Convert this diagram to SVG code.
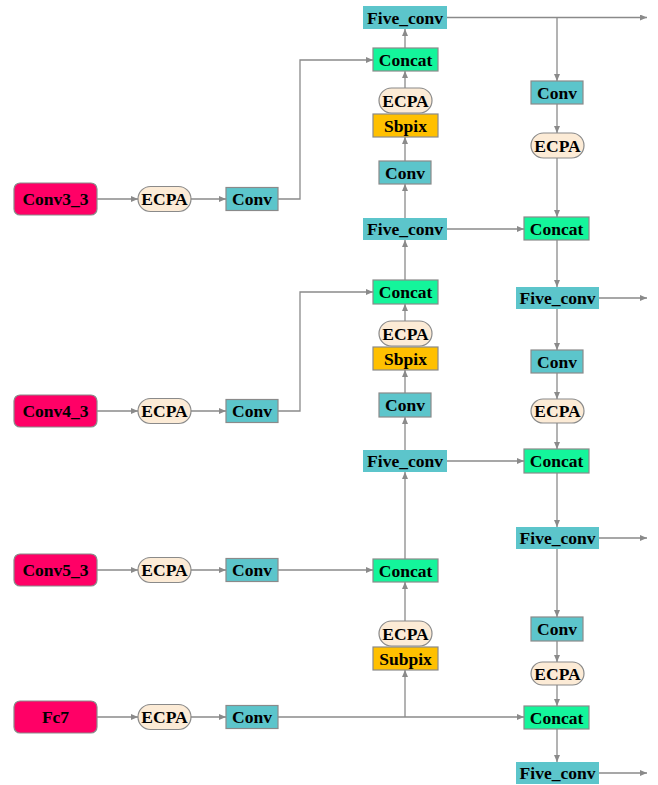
<svg xmlns="http://www.w3.org/2000/svg" width="658" height="785" viewBox="0 0 658 785">
  <defs>
    <marker id="arr" markerWidth="8" markerHeight="6" refX="7" refY="3" orient="auto" markerUnits="userSpaceOnUse">
      <path d="M0,0 L7,3 L0,6 Z" fill="#8a8a8a"/>
    </marker>
    <style>
      .src { fill: #FF0066; stroke: #8a8a8a; stroke-width: 1.2; }
      .ecpa { fill: #FCEBD6; stroke: #8a8a8a; stroke-width: 1.2; }
      .conv { fill: #5CC5CB; stroke: #8a8a8a; stroke-width: 1.2; }
      .cat { fill: #14F59B; stroke: #8a8a8a; stroke-width: 1.2; }
      .pix { fill: #FFC000; stroke: #8a8a8a; stroke-width: 1.2; }
      .five { fill: #5CC5CB; stroke: none; }
      text { font-family: "Liberation Serif", "Times New Roman", serif; font-weight: bold; font-size: 17.5px; fill: #000; text-anchor: middle; dominant-baseline: central; }
      .edge { fill: none; stroke: #8a8a8a; stroke-width: 1.3; }
      .edge.a { marker-end: url(#arr); }
    </style>
  </defs>

  <g id="connectors">
    <!-- input rows -->
    <path class="edge a" d="M97,199 H138"/>
    <path class="edge a" d="M191,199 H226"/>
    <path class="edge a" d="M278,199 H300 V60 H373"/>
    <path class="edge a" d="M97,411 H138"/>
    <path class="edge a" d="M191,411 H226"/>
    <path class="edge a" d="M278,411 H300 V292 H373"/>
    <path class="edge a" d="M97,570 H138"/>
    <path class="edge a" d="M191,570 H226"/>
    <path class="edge a" d="M278,570 H373"/>
    <path class="edge a" d="M97,717 H138"/>
    <path class="edge a" d="M191,717 H226"/>
    <path class="edge a" d="M278,717 H524"/>
    <path class="edge a" d="M405,717 V670"/>
    <!-- top-down column -->
    <path class="edge a" d="M405,621 V582"/>
    <path class="edge a" d="M405,559 V472"/>
    <path class="edge a" d="M405,450 V417"/>
    <path class="edge a" d="M405,393 V370"/>
    <path class="edge a" d="M405,321 V304"/>
    <path class="edge a" d="M405,280 V240"/>
    <path class="edge a" d="M405,218 V184"/>
    <path class="edge a" d="M405,161 V137"/>
    <path class="edge a" d="M405,88 V71"/>
    <path class="edge a" d="M405,48 V29"/>
    <!-- lateral links -->
    <path class="edge a" d="M447,229 H524"/>
    <path class="edge a" d="M447,461 H524"/>
    <!-- bottom-up column -->
    <path class="edge a" d="M447,17.5 H647"/>
    <path class="edge a" d="M557,17.5 V81"/>
    <path class="edge a" d="M557,104 V133"/>
    <path class="edge a" d="M557,158 V217"/>
    <path class="edge a" d="M557,240 V287"/>
    <path class="edge a" d="M557,309 V350"/>
    <path class="edge a" d="M557,373 V399"/>
    <path class="edge a" d="M557,423 V449"/>
    <path class="edge a" d="M557,473 V527"/>
    <path class="edge a" d="M557,549 V617"/>
    <path class="edge a" d="M557,641 V662"/>
    <path class="edge a" d="M557,684 V706"/>
    <path class="edge a" d="M557,729 V762"/>
    <!-- outputs -->
    <path class="edge a" d="M599,298 H647"/>
    <path class="edge a" d="M599,538 H647"/>
    <path class="edge a" d="M599,773 H647"/>
  </g>

  <!-- backbone inputs -->
  <g id="conv3_3"><rect class="src" x="14" y="183" width="83" height="32" rx="6"/><text x="55.5" y="199">Conv3_3</text></g>
  <g id="conv4_3"><rect class="src" x="14" y="395" width="83" height="32" rx="6"/><text x="55.5" y="411">Conv4_3</text></g>
  <g id="conv5_3"><rect class="src" x="14" y="554" width="83" height="32" rx="6"/><text x="55.5" y="570">Conv5_3</text></g>
  <g id="fc7"><rect class="src" x="14" y="701" width="83" height="32" rx="6"/><text x="55.5" y="717">Fc7</text></g>

  <!-- first ECPA / Conv per input -->
  <g id="ecpa_a1"><rect class="ecpa" x="138" y="186.5" width="53" height="25" rx="12.5"/><text x="164.5" y="199">ECPA</text></g>
  <g id="conv_a1"><rect class="conv" x="226" y="187.5" width="52" height="23"/><text x="252" y="199">Conv</text></g>
  <g id="ecpa_a2"><rect class="ecpa" x="138" y="398.5" width="53" height="25" rx="12.5"/><text x="164.5" y="411">ECPA</text></g>
  <g id="conv_a2"><rect class="conv" x="226" y="399.5" width="52" height="23"/><text x="252" y="411">Conv</text></g>
  <g id="ecpa_a3"><rect class="ecpa" x="138" y="557.5" width="53" height="25" rx="12.5"/><text x="164.5" y="570">ECPA</text></g>
  <g id="conv_a3"><rect class="conv" x="226" y="558.5" width="52" height="23"/><text x="252" y="570">Conv</text></g>
  <g id="ecpa_a4"><rect class="ecpa" x="138" y="704.5" width="53" height="25" rx="12.5"/><text x="164.5" y="717">ECPA</text></g>
  <g id="conv_a4"><rect class="conv" x="226" y="705.5" width="52" height="23"/><text x="252" y="717">Conv</text></g>

  <!-- top-down column -->
  <g id="subpix_b3"><rect class="pix" x="373" y="647" width="65" height="23"/><text x="405.5" y="658.5">Subpix</text></g>
  <g id="ecpa_b3"><rect class="ecpa" x="379" y="621" width="53" height="25" rx="12.5"/><text x="405.5" y="633.5">ECPA</text></g>
  <g id="concat_b3"><rect class="cat" x="373" y="559" width="65" height="23"/><text x="405.5" y="570.5">Concat</text></g>
  <g id="five_b3"><rect class="five" x="363" y="450" width="84" height="22"/><text x="405" y="461">Five_conv</text></g>
  <g id="conv_b2"><rect class="conv" x="379" y="393" width="52" height="24"/><text x="405" y="405">Conv</text></g>
  <g id="sbpix_b2"><rect class="pix" x="373" y="347" width="65" height="23"/><text x="405.5" y="358.5">Sbpix</text></g>
  <g id="ecpa_b2"><rect class="ecpa" x="379" y="321" width="53" height="25" rx="12.5"/><text x="405.5" y="333.5">ECPA</text></g>
  <g id="concat_b2"><rect class="cat" x="373" y="280" width="65" height="24"/><text x="405.5" y="292">Concat</text></g>
  <g id="five_b2"><rect class="five" x="363" y="218" width="84" height="22"/><text x="405" y="229">Five_conv</text></g>
  <g id="conv_b1"><rect class="conv" x="379" y="161" width="52" height="23"/><text x="405" y="172.5">Conv</text></g>
  <g id="sbpix_b1"><rect class="pix" x="373" y="114" width="65" height="23"/><text x="405.5" y="125.5">Sbpix</text></g>
  <g id="ecpa_b1"><rect class="ecpa" x="379" y="88" width="53" height="25" rx="12.5"/><text x="405.5" y="100.5">ECPA</text></g>
  <g id="concat_b1"><rect class="cat" x="373" y="48" width="65" height="23"/><text x="405.5" y="59.5">Concat</text></g>
  <g id="five_b1"><rect class="five" x="363" y="6" width="84" height="23"/><text x="405" y="17.5">Five_conv</text></g>

  <!-- bottom-up column -->
  <g id="conv_c1"><rect class="conv" x="531" y="81" width="52" height="23"/><text x="557" y="92.5">Conv</text></g>
  <g id="ecpa_c1"><rect class="ecpa" x="531" y="133" width="53" height="25" rx="12.5"/><text x="557.5" y="145.5">ECPA</text></g>
  <g id="concat_c1"><rect class="cat" x="524" y="217" width="65" height="23"/><text x="556.5" y="228.5">Concat</text></g>
  <g id="five_c1"><rect class="five" x="516" y="287" width="83" height="22"/><text x="557.5" y="298">Five_conv</text></g>
  <g id="conv_c2"><rect class="conv" x="531" y="350" width="52" height="23"/><text x="557" y="361.5">Conv</text></g>
  <g id="ecpa_c2"><rect class="ecpa" x="531" y="399" width="53" height="24" rx="12"/><text x="557.5" y="411">ECPA</text></g>
  <g id="concat_c2"><rect class="cat" x="524" y="449" width="65" height="24"/><text x="556.5" y="461">Concat</text></g>
  <g id="five_c2"><rect class="five" x="516" y="527" width="83" height="22"/><text x="557.5" y="538">Five_conv</text></g>
  <g id="conv_c3"><rect class="conv" x="531" y="617" width="52" height="24"/><text x="557" y="629">Conv</text></g>
  <g id="ecpa_c3"><rect class="ecpa" x="531" y="662" width="53" height="23" rx="11.5"/><text x="557.5" y="673.5">ECPA</text></g>
  <g id="concat_c3"><rect class="cat" x="524" y="706" width="65" height="23"/><text x="556.5" y="717.5">Concat</text></g>
  <g id="five_c3"><rect class="five" x="516" y="762" width="83" height="22"/><text x="557.5" y="773">Five_conv</text></g>
</svg>
